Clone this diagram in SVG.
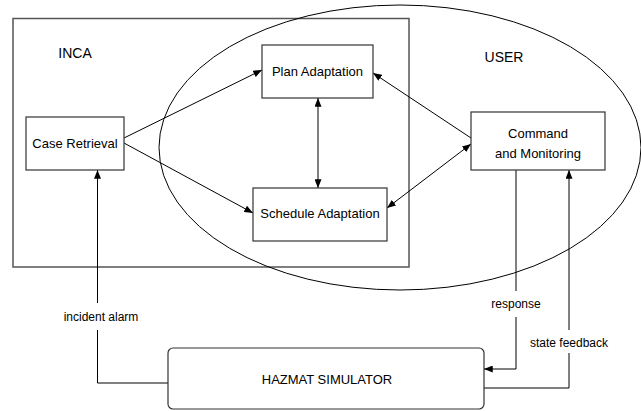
<svg xmlns="http://www.w3.org/2000/svg" width="641" height="411" viewBox="0 0 641 411">
<defs>
<marker id="ah" viewBox="0 0 10 8" refX="10" refY="4" markerWidth="9" markerHeight="7" markerUnits="userSpaceOnUse" orient="auto-start-reverse">
<path d="M0,0 L10,4 L0,8 Z" fill="#000"/>
</marker>
<style>
text{font-family:"Liberation Sans",Arial,sans-serif;fill:#000;text-anchor:middle}
.box{fill:#fff;stroke:#333;stroke-width:1.2}
.lbl{font-size:13px}
.small{font-size:12px}
.conn line,.conn polyline{fill:none;stroke:#000;stroke-width:1}
</style>
</defs>
<rect width="641" height="411" fill="#fff"/>
<g id="inca">
<rect x="13" y="18.5" width="396" height="248.5" fill="none" stroke="#555" stroke-width="1.5"/>
<text x="75" y="58" style="font-size:14px">INCA</text>
</g>
<g id="user">
<ellipse cx="400" cy="147.5" rx="241" ry="142.5" fill="none" stroke="#000" stroke-width="1"/>
<text x="504" y="62" style="font-size:14px">USER</text>
</g>
<g class="conn" id="connectors">
<line x1="124" y1="138" x2="262" y2="70" marker-end="url(#ah)"/>
<line x1="124" y1="143" x2="253" y2="213" marker-end="url(#ah)"/>
<line x1="318" y1="98" x2="318" y2="188" marker-start="url(#ah)" marker-end="url(#ah)"/>
<line x1="471" y1="138" x2="373" y2="73" marker-end="url(#ah)"/>
<line x1="387" y1="208" x2="471" y2="144" marker-start="url(#ah)" marker-end="url(#ah)"/>
<polyline points="168,383 97.5,383 97.5,330"/>
<line x1="97.5" y1="303" x2="97.5" y2="170" marker-end="url(#ah)"/>
<line x1="516" y1="170" x2="516" y2="291"/>
<polyline points="516,317 516,369 484,369" marker-end="url(#ah)"/>
<polyline points="484,388 569,388 569,353"/>
<line x1="569" y1="330" x2="569" y2="170" marker-end="url(#ah)"/>
<text class="small" x="101" y="321">incident alarm</text>
<text class="small" x="516" y="308">response</text>
<text class="small" x="569" y="347">state feedback</text>
</g>
<g id="case-retrieval">
<rect class="box" x="26" y="117" width="98" height="53"/>
<text class="lbl" x="75" y="148">Case Retrieval</text>
</g>
<g id="plan-adaptation">
<rect class="box" x="262" y="45" width="111" height="53"/>
<text class="lbl" x="317.5" y="76">Plan Adaptation</text>
</g>
<g id="schedule-adaptation">
<rect class="box" x="253" y="188" width="134" height="53"/>
<text class="lbl" x="320" y="218">Schedule Adaptation</text>
</g>
<g id="command-monitoring">
<rect class="box" x="471" y="112" width="134" height="58"/>
<text class="lbl" x="538" y="138">Command</text>
<text class="lbl" x="538" y="158">and Monitoring</text>
</g>
<g id="hazmat-simulator">
<rect class="box" x="168" y="348" width="316" height="61" rx="5"/>
<text class="lbl" x="327" y="384">HAZMAT SIMULATOR</text>
</g>
</svg>
